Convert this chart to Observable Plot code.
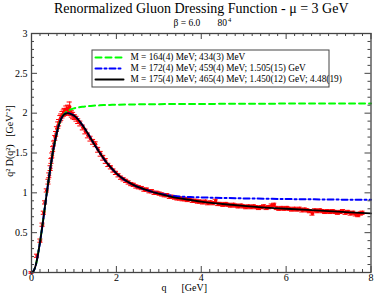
<!DOCTYPE html>
<html>
<head>
<meta charset="utf-8">
<script src="https://cdn.jsdelivr.net/npm/d3@7"></script>
<script src="https://cdn.jsdelivr.net/npm/@observablehq/plot@0.6"></script>
<style>
  html, body { margin: 0; padding: 0; background: white; }
</style>
</head>
<body>
<div id="chart"></div>
<script>
// ---- text ----
const title = "Renormalized Gluon Dressing Function - μ = 3 GeV";
const subtitleBeta = "β = 6.0";
const subtitleVol = "80";
const subtitleVolExp = "4";
const xLabel = "q\u00a0\u00a0\u00a0\u00a0\u00a0\u00a0[GeV]";
const yLabel = "q² D(q²)\u00a0\u00a0\u00a0[GeV⁻²]";
const legendLabels = [
  "M = 164(4) MeV; 434(3) MeV",
  "M = 172(4) MeV; 459(4) MeV; 1.505(15) GeV",
  "M = 175(4) MeV; 465(4) MeV; 1.450(12) GeV; 4.48(19)"
];

// ---- ticks ----
const xMajor = [0, 2, 4, 6, 8];
const yMajor = [0, 0.5, 1, 1.5, 2, 2.5, 3];

// ---- lattice data ----
const qLat = [
 0.00,0.13,0.21,0.26,0.29,0.32,0.36,0.40,0.42,0.45,
 0.47,0.49,0.51,0.53,0.56,0.58,0.60,0.63,0.65,0.68,
 0.70,0.73,0.76,0.78,0.80,0.82,0.84,0.86,0.88,0.90,
 0.92,0.95,0.98,1.02,1.06,1.10,1.15,1.21,1.27,1.33,
 1.39,1.45,1.51,1.57,1.63,1.69,1.75,1.81,1.87,1.93,
 1.99,2.05,2.11,2.17,2.23,2.29,2.35,2.41,2.47,2.53,
 2.60,2.66,2.72,2.78,2.84,2.90,2.96,3.02,3.08,3.14,
 3.20,3.26,3.32,3.38,3.44,3.50,3.56,3.62,3.68,3.74,
 3.80,3.86,3.92,3.98,4.04,4.10,4.16,4.22,4.28,4.34,
 4.40,4.46,4.52,4.58,4.64,4.70,4.76,4.82,4.88,4.94,
 5.00,5.06,5.12,5.18,5.24,5.30,5.36,5.42,5.48,5.54,
 5.60,5.66,5.72,5.78,5.84,5.90,5.96,6.02,6.08,6.14,
 6.20,6.26,6.32,6.38,6.44,6.50,6.56,6.62,6.68,6.74,
 6.80,6.86,6.92,6.98,7.04,7.10,7.16,7.22,7.28,7.34,
 7.40,7.46,7.52,7.58,7.64,7.70,7.76,7.80
];
const dLat = [
 0.00,0.21,0.40,0.60,0.75,0.88,1.03,1.14,1.22,1.31,
 1.40,1.47,1.55,1.62,1.69,1.74,1.80,1.85,1.88,1.93,
 1.95,1.98,2.00,2.02,2.01,2.04,2.02,2.05,2.03,2.08,
 2.01,1.99,1.97,1.95,1.93,1.90,1.87,1.82,1.77,1.72,
 1.68,1.64,1.61,1.54,1.49,1.44,1.40,1.35,1.32,1.28,
 1.25,1.22,1.19,1.17,1.15,1.13,1.11,1.10,1.08,1.07,
 1.06,1.04,1.04,1.02,1.02,1.00,1.00,0.99,0.98,0.97,
 0.97,0.95,0.95,0.94,0.93,0.93,0.92,0.92,0.91,0.92,
 0.90,0.90,0.89,0.89,0.88,0.89,0.87,0.88,0.87,0.90,
 0.86,0.86,0.85,0.86,0.85,0.84,0.85,0.84,0.83,0.84,
 0.83,0.82,0.83,0.82,0.83,0.82,0.81,0.82,0.83,0.81,
 0.82,0.84,0.85,0.81,0.80,0.81,0.80,0.81,0.80,0.79,
 0.80,0.79,0.80,0.78,0.79,0.78,0.77,0.74,0.78,0.77,
 0.78,0.77,0.76,0.77,0.76,0.77,0.76,0.75,0.76,0.77,
 0.75,0.76,0.74,0.75,0.73,0.72,0.74,0.75
];
const eLat = [
 0.01,0.02,0.02,0.02,0.02,0.02,0.02,0.03,0.03,0.03,
 0.03,0.03,0.03,0.03,0.03,0.03,0.03,0.04,0.04,0.04,
 0.04,0.04,0.04,0.04,0.04,0.05,0.04,0.05,0.04,0.06,
 0.04,0.04,0.04,0.03,0.03,0.03,0.03,0.03,0.03,0.03,
 0.03,0.03,0.03,0.03,0.03,0.03,0.03,0.02,0.02,0.02,
 0.02,0.02,0.02,0.02,0.02,0.02,0.02,0.02,0.02,0.02,
 0.02,0.02,0.02,0.02,0.02,0.02,0.02,0.02,0.02,0.02,
 0.02,0.02,0.02,0.02,0.02,0.02,0.02,0.02,0.02,0.02,
 0.02,0.02,0.02,0.02,0.02,0.02,0.02,0.02,0.02,0.02,
 0.02,0.02,0.02,0.02,0.02,0.02,0.02,0.02,0.02,0.02,
 0.02,0.02,0.02,0.02,0.02,0.02,0.02,0.02,0.02,0.02,
 0.02,0.02,0.02,0.02,0.02,0.02,0.02,0.02,0.02,0.02,
 0.02,0.02,0.02,0.02,0.02,0.02,0.02,0.02,0.02,0.02,
 0.02,0.02,0.02,0.02,0.02,0.02,0.02,0.02,0.02,0.02,
 0.02,0.02,0.02,0.02,0.02,0.02,0.02,0.02
];

// ---- fit curves ----
const qFit = [0,0.05,0.1,0.15,0.2,0.25,0.3,0.35,0.4,0.45,0.5,0.55,0.6,0.65,0.7,0.75,0.8,0.85,0.9,
  1.0,1.1,1.2,1.3,1.4,1.5,1.6,1.7,1.8,1.9,2.0,2.2,2.4,2.6,2.8,3.0,3.25,3.5,3.75,4.0,4.5,5.0,5.5,6.0,6.5,7.0,7.5,8.0];
const dFit3 = [0,0.02,0.09,0.22,0.38,0.56,0.76,0.96,1.15,1.33,1.50,1.64,1.76,1.86,1.93,1.975,1.995,2.0,1.995,
  1.97,1.92,1.85,1.77,1.68,1.59,1.51,1.43,1.36,1.30,1.245,1.16,1.10,1.055,1.02,0.99,0.955,0.93,0.91,0.89,0.86,0.835,0.815,0.80,0.785,0.77,0.755,0.742];
const dFit2 = [0,0.02,0.09,0.22,0.38,0.56,0.76,0.96,1.15,1.33,1.50,1.64,1.76,1.86,1.93,1.975,1.995,2.0,1.995,
  1.97,1.92,1.85,1.77,1.68,1.59,1.51,1.43,1.36,1.30,1.245,1.16,1.10,1.055,1.02,0.992,0.968,0.953,0.947,0.943,0.936,0.930,0.926,0.922,0.919,0.916,0.914,0.912];
const dFit1 = [0,0.02,0.09,0.22,0.38,0.56,0.76,0.96,1.15,1.33,1.50,1.64,1.76,1.86,1.93,1.975,2.005,2.025,2.04,
  2.06,2.072,2.08,2.086,2.091,2.095,2.098,2.101,2.103,2.105,2.106,2.108,2.110,2.111,2.112,2.113,2.114,2.115,2.116,2.116,2.117,2.118,2.119,2.12,2.12,2.12,2.12,2.12];

const lattice = qLat.map((q, i) => ({q, d: dLat[i], e: eLat[i]}));
const fits = [dFit1, dFit2, dFit3].map(arr => qFit.map((q, i) => ({q, d: arr[i]})));

const W = 374, H = 295;
const mL = 31, mR = 3.5, mT = 33, mB = 23;
const fw = W - mL - mR, fh = H - mT - mB;
const major = 6, minor = 3;
const xMinor = d3.range(0, 8.0001, 0.2).filter(v => Math.abs(v / 2 - Math.round(v / 2)) > 1e-6);
const yMinor = d3.range(0, 3.0001, 0.1).filter(v => Math.abs(v / 0.5 - Math.round(v / 0.5)) > 1e-6);

const serif = "Liberation Serif, Times New Roman, serif";
const hline = {draw(ctx, l) { ctx.moveTo(0, 0); ctx.lineTo(l, 0); }};
const frameCol = "#444";
const cap = 0.06;

const legendStyles = [
  {stroke: "#00ff00", dash: "6,4"},
  {stroke: "#0000ff", dash: "6,3,2,3"},
  {stroke: "#000000", dash: null}
];
const legendDy = [24, 35, 46];

const marks = [
  // lattice error bars + caps + points
  Plot.ruleX(lattice, {x: "q", y1: d => d.d - d.e, y2: d => d.d + d.e, stroke: "#ff0000", strokeWidth: 1}),
  Plot.ruleY(lattice, {y: d => d.d + d.e, x1: d => d.q - cap, x2: d => d.q + cap, stroke: "#ff0000", strokeWidth: 1}),
  Plot.ruleY(lattice, {y: d => d.d - d.e, x1: d => d.q - cap, x2: d => d.q + cap, stroke: "#ff0000", strokeWidth: 1}),
  Plot.dot(lattice, {x: "q", y: "d", r: 1.8, fill: "#ff0000", stroke: "none"}),
  // fits
  Plot.line(fits[0], {x: "q", y: "d", stroke: "#00ff00", strokeWidth: 2, strokeDasharray: "6,4", curve: "monotone-x"}),
  Plot.line(fits[1], {x: "q", y: "d", stroke: "#0000ff", strokeWidth: 2, strokeDasharray: "6,3,2,3", curve: "monotone-x"}),
  Plot.line(fits[2], {x: "q", y: "d", stroke: "#000000", strokeWidth: 1.8, curve: "monotone-x"}),
  // inside ticks
  Plot.ruleX(xMajor, {insetTop: fh - major, stroke: frameCol}),
  Plot.ruleX(xMajor, {insetBottom: fh - major, stroke: frameCol}),
  Plot.ruleX(xMinor, {insetTop: fh - minor, stroke: frameCol}),
  Plot.ruleX(xMinor, {insetBottom: fh - minor, stroke: frameCol}),
  Plot.ruleY(yMajor, {insetRight: fw - major, stroke: frameCol}),
  Plot.ruleY(yMajor, {insetLeft: fw - major, stroke: frameCol}),
  Plot.ruleY(yMinor, {insetRight: fw - minor, stroke: frameCol}),
  Plot.ruleY(yMinor, {insetLeft: fw - minor, stroke: frameCol}),
  Plot.frame({stroke: frameCol, strokeWidth: 1.3}),
  // axes labels
  Plot.axisX(xMajor, {tickSize: 0, tickPadding: 1, fontSize: 10, tickFormat: d => String(d), label: null}),
  Plot.axisY(yMajor, {tickSize: 0, tickPadding: 4, fontSize: 10, tickFormat: d => String(d), label: null}),
  // legend box
  Plot.rect([0], {insetLeft: 92 - mL, insetRight: mL + fw - 329, insetTop: 50 - mT, insetBottom: mT + fh - 87,
    fill: "white", stroke: frameCol, strokeWidth: 1}),
  ...legendLabels.map((t, i) => Plot.vector([0], {frameAnchor: "top-left", dx: 95 - mL, dy: legendDy[i], length: 28, rotate: 0,
    anchor: "start", shape: hline, stroke: legendStyles[i].stroke, strokeWidth: 2, strokeDasharray: legendStyles[i].dash})),
  ...legendLabels.map((t, i) => Plot.text([t], {frameAnchor: "top-left", dx: 130 - mL, dy: legendDy[i], textAnchor: "start", lineAnchor: "middle", fontSize: 9.3, fill: "black"})),
  // titles
  Plot.text([title], {frameAnchor: "top", dy: -25, lineAnchor: "middle", fontSize: 14, fill: "black"}),
  Plot.text([subtitleBeta], {frameAnchor: "top-left", dx: 173 - mL, dy: -11, textAnchor: "start", lineAnchor: "middle", fontSize: 9.5, fill: "black"}),
  Plot.text([subtitleVol], {frameAnchor: "top-left", dx: 217 - mL, dy: -11, textAnchor: "start", lineAnchor: "middle", fontSize: 9.5, fill: "black"}),
  Plot.text([subtitleVolExp], {frameAnchor: "top-left", dx: 227.5 - mL, dy: -13.5, textAnchor: "start", lineAnchor: "middle", fontSize: 6.5, fill: "black"}),
  Plot.text([xLabel], {frameAnchor: "bottom", dx: -17, dy: 18.5, textAnchor: "middle", lineAnchor: "bottom", fontSize: 10, fill: "black"}),
  Plot.text([yLabel], {frameAnchor: "left", dx: -22, dy: -12, rotate: -90, textAnchor: "middle", lineAnchor: "middle", fontSize: 10, fill: "black"})
];

const chart = Plot.plot({
  width: W, height: H,
  marginLeft: mL, marginRight: mR, marginTop: mT, marginBottom: mB,
  x: {domain: [0, 8], axis: null},
  y: {domain: [0, 3], axis: null},
  style: {fontFamily: serif, background: "white", color: "black"},
  marks
});
document.getElementById("chart").appendChild(chart);
</script>
</body>
</html>
